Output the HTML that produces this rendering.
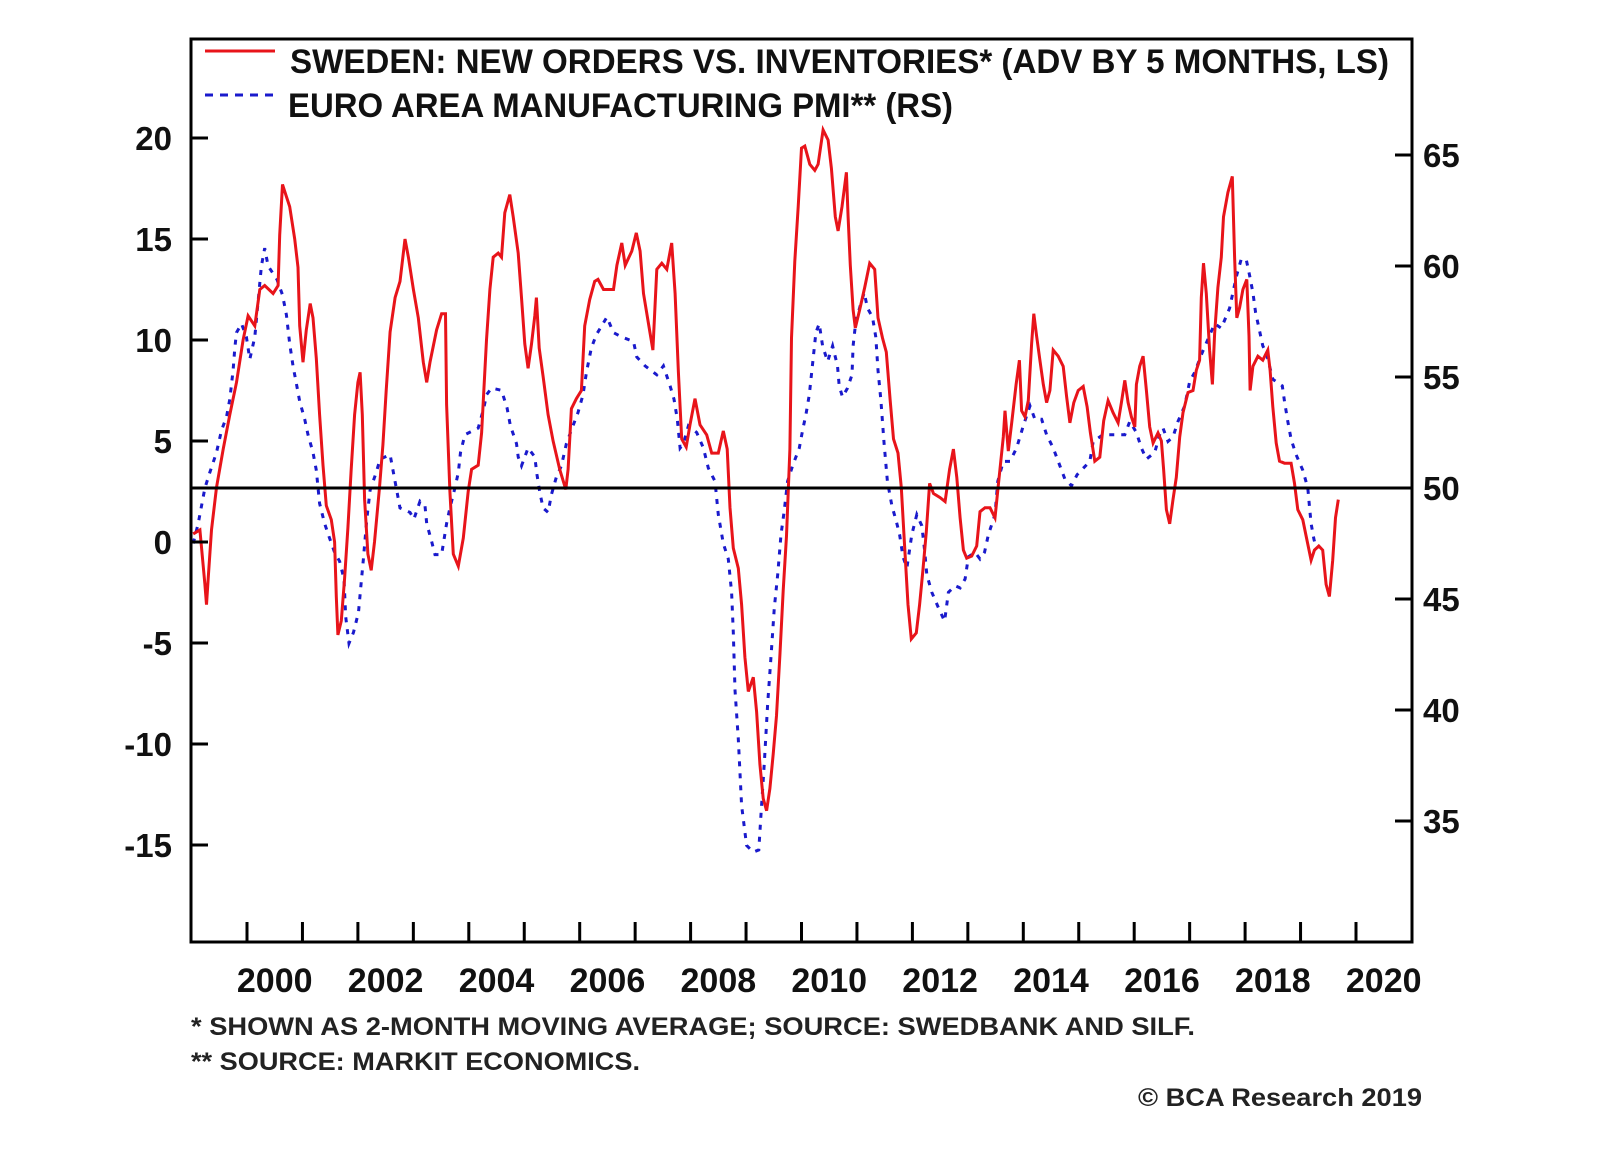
<!DOCTYPE html>
<html><head><meta charset="utf-8"><style>
html,body{margin:0;padding:0;background:#fff;}
svg{display:block;font-family:"Liberation Sans",Arial,sans-serif;}
</style></head><body>
<svg id="chart" width="1600" height="1152" viewBox="0 0 1600 1152" xmlns="http://www.w3.org/2000/svg">
<rect x="0" y="0" width="1600" height="1152" fill="#fff"/>
<g id="plot"></g>
<g id="axes"></g>
<g>
  <line x1="205" y1="51" x2="275" y2="51" stroke="#e8141a" stroke-width="3"/>
  <text x="290" y="73" font-size="34" font-weight="bold" fill="#111" textLength="1099" lengthAdjust="spacingAndGlyphs">SWEDEN: NEW ORDERS VS. INVENTORIES* (ADV BY 5 MONTHS, LS)</text>
  <line x1="205" y1="95" x2="275" y2="95" stroke="#1a1acc" stroke-width="3" stroke-dasharray="8 7"/>
  <text x="288" y="117" font-size="34" font-weight="bold" fill="#111" textLength="665" lengthAdjust="spacingAndGlyphs">EURO AREA MANUFACTURING PMI** (RS)</text>
</g>
<text x="191" y="1035" font-size="25" font-weight="bold" fill="#222" textLength="1004" lengthAdjust="spacingAndGlyphs">*  SHOWN AS 2-MONTH MOVING AVERAGE;  SOURCE:  SWEDBANK AND SILF.</text>
<text x="191" y="1070" font-size="25" font-weight="bold" fill="#222" textLength="449" lengthAdjust="spacingAndGlyphs">** SOURCE: MARKIT ECONOMICS.</text>
<text x="1138" y="1106" font-size="25" font-weight="bold" fill="#222" textLength="284" lengthAdjust="spacingAndGlyphs">© BCA Research 2019</text>
</svg>
<script>
const redDates=[1999.03,1999.15,1999.24,1999.27,1999.3,1999.36,1999.45,1999.57,1999.69,1999.81,1999.93,2000.02,2000.14,2000.23,2000.32,2000.47,2000.56,2000.59,2000.64,2000.71,2000.77,2000.86,2000.92,2000.95,2001.01,2001.07,2001.14,2001.19,2001.25,2001.31,2001.37,2001.43,2001.52,2001.58,2001.61,2001.64,2001.7,2001.76,2001.82,2001.88,2001.94,2002.0,2002.04,2002.08,2002.12,2002.18,2002.24,2002.3,2002.39,2002.45,2002.51,2002.58,2002.67,2002.76,2002.85,2002.91,2003.0,2003.09,2003.18,2003.24,2003.3,2003.42,2003.51,2003.58,2003.6,2003.66,2003.72,2003.81,2003.9,2003.99,2004.05,2004.17,2004.23,2004.32,2004.38,2004.44,2004.53,2004.59,2004.65,2004.74,2004.8,2004.89,2004.95,2005.01,2005.07,2005.13,2005.19,2005.22,2005.27,2005.34,2005.43,2005.52,2005.64,2005.75,2005.79,2005.85,2005.94,2006.03,2006.09,2006.18,2006.27,2006.33,
2006.43,2006.61,2006.67,2006.76,2006.82,2006.94,2007.02,2007.09,2007.15,2007.24,2007.32,2007.39,2007.48,2007.57,2007.66,2007.72,2007.78,2007.84,2007.92,2007.99,2008.08,2008.17,2008.29,2008.38,2008.5,2008.59,2008.66,2008.71,2008.77,2008.86,2008.92,2008.98,2009.04,2009.13,2009.19,2009.25,2009.31,2009.37,2009.43,2009.49,2009.55,2009.61,2009.67,2009.73,2009.79,2009.82,2009.88,2009.94,2010.0,2010.06,2010.15,2010.24,2010.3,2010.39,2010.48,2010.54,2010.61,2010.66,2010.73,2010.81,2010.84,2010.88,2010.93,2010.97,2011.05,2011.14,2011.23,2011.32,2011.38,2011.46,2011.53,2011.6,2011.66,2011.74,2011.8,2011.86,2011.92,2011.98,2012.07,2012.13,2012.19,2012.25,2012.31,2012.38,2012.5,2012.59,2012.67,2012.74,2012.8,2012.86,2012.92,2012.98,2013.07,2013.16,2013.22,2013.31,2013.4,2013.49,2013.55,
2013.64,2013.67,2013.73,2013.79,2013.87,2013.93,2013.97,2014.03,2014.09,2014.15,2014.19,2014.24,2014.3,2014.36,2014.42,2014.48,2014.54,2014.63,2014.72,2014.78,2014.84,2014.91,2014.99,2015.08,2015.15,2015.21,2015.29,2015.38,2015.45,2015.53,2015.62,2015.71,2015.77,2015.83,2015.89,2015.95,2016.01,2016.04,2016.1,2016.16,2016.22,2016.28,2016.34,2016.43,2016.49,2016.53,2016.58,2016.64,2016.7,2016.76,2016.82,2016.88,2016.97,2017.06,2017.12,2017.18,2017.21,2017.25,2017.3,2017.36,2017.41,2017.45,2017.51,2017.57,2017.61,2017.69,2017.77,2017.81,2017.85,2017.9,2017.96,2018.03,2018.07,2018.09,2018.14,2018.23,2018.32,2018.41,2018.45,2018.5,2018.56,2018.62,2018.71,2018.83,2018.89,2018.95,2019.04,2019.1,2019.19,2019.25,2019.33,2019.4,2019.46,2019.52,2019.58,2019.63,2019.68];
const redValues=[0.4,0.6,-2.1,-3.1,-1.8,0.6,2.7,4.6,6.3,7.9,10,11.2,10.7,12.5,12.7,12.3,12.7,15.2,17.7,17.1,16.6,15,13.6,10.7,8.9,10.5,11.8,11.1,9.1,6.3,3.8,1.8,1.1,0,-2.7,-4.6,-3.9,-1.8,0.7,3.6,6.3,7.9,8.4,6.3,2.1,-0.6,-1.4,0,2.7,4.8,7.5,10.4,12.1,12.9,15,14.1,12.5,11.1,8.9,7.9,8.9,10.5,11.3,11.3,6.8,2.5,-0.6,-1.2,0.2,2.5,3.6,3.8,5.4,10,12.5,14.1,14.3,14.1,16.3,17.2,16.1,14.3,12.1,9.8,8.6,9.8,11.2,12.1,9.6,8.2,6.3,5,3.6,2.6,3.6,6.6,7.1,7.5,10.7,12,12.9,13,
12.5,12.5,13.7,14.8,13.7,14.4,15.3,14.4,12.3,10.8,9.5,13.5,13.8,13.5,14.8,12.3,8.4,5.1,4.7,5.8,7.1,5.8,5.3,4.4,4.4,5.5,4.6,1.7,-0.3,-1.3,-3.1,-5.7,-7.4,-6.7,-8.4,-11,-12.7,-13.3,-12.2,-10.5,-8.6,-5.6,-2.4,0.3,4.6,10.1,13.9,16.6,19.5,19.6,18.7,18.4,18.7,20.4,19.9,18.5,16.1,15.4,16.6,18.3,16.1,13.7,11.5,10.6,11.5,12.6,13.8,13.5,11.1,10.1,9.4,7,5.1,4.4,2.7,-0.2,-3.1,-4.8,-4.5,-3.1,-1.4,0.5,2.9,2.4,2.2,2,3.6,4.6,3.2,1.2,-0.4,-0.8,-0.7,-0.2,1.5,1.7,1.7,1.2,2.8,
5.2,6.5,4.5,5.9,7.8,9,6.5,6.2,7,9.8,11.3,10.2,9,7.8,6.9,7.5,9.5,9.2,8.7,7.2,5.9,6.9,7.5,7.7,6.7,5.4,4,4.2,6,7,6.4,5.9,6.9,8,6.9,6.2,5.7,7.8,8.7,9.2,7.5,5.7,4.9,5.4,5,3.6,1.6,0.9,2.1,3.2,5.2,6.4,7.4,7.5,8.5,9,12.1,13.8,12.3,9.5,7.8,10.3,12.6,14.1,16.1,17.3,18.1,14.1,11.1,11.6,12.5,13,10.2,7.5,8.7,9.2,9,9.5,8.5,6.7,4.9,4,3.9,3.9,2.9,1.6,1.1,0.3,-0.9,-0.4,-0.2,-0.4,-2.1,-2.7,-0.9,1.2,2.1];
const blueDates=[1999.03,1999.12,1999.24,1999.33,1999.45,1999.54,1999.63,1999.69,1999.75,1999.78,1999.81,1999.9,1999.99,2000.05,2000.14,2000.2,2000.26,2000.32,2000.38,2000.54,2000.64,2000.71,2000.77,2000.83,2000.89,2000.95,2001.04,2001.1,2001.19,2001.25,2001.31,2001.4,2001.48,2001.58,2001.67,2001.75,2001.78,2001.84,2001.92,2002.01,2002.05,2002.1,2002.16,2002.22,2002.33,2002.4,2002.58,2002.64,2002.7,2002.76,2002.94,2003.01,2003.12,2003.21,2003.24,2003.33,2003.39,2003.51,2003.6,2003.66,2003.75,2003.81,2003.85,2003.93,2004.17,2004.27,2004.32,2004.41,2004.59,2004.69,2004.75,2004.86,2004.89,2004.95,2005.07,2005.19,2005.23,2005.28,2005.34,2005.43,2005.49,2005.58,2005.67,2005.76,2005.88,2005.97,2006.06,2006.12,2006.21,2006.3,
2006.49,2006.61,2006.76,2006.97,2007.03,2007.18,2007.39,2007.51,2007.63,2007.7,2007.76,2007.81,2007.87,2007.96,2008.11,2008.23,2008.32,2008.44,2008.5,2008.59,2008.68,2008.74,2008.77,2008.8,2008.86,2008.92,2009.01,2009.13,2009.23,2009.27,2009.33,2009.39,2009.45,2009.51,2009.57,2009.63,2009.69,2009.75,2009.84,2009.96,2010.02,2010.08,2010.14,2010.2,2010.26,2010.32,2010.38,2010.47,2010.56,2010.65,2010.68,2010.74,2010.83,2010.91,2010.93,2010.98,2011.07,2011.13,2011.19,2011.28,2011.34,2011.38,2011.43,2011.49,2011.55,2011.63,2011.71,2011.77,2011.83,2011.9,2011.99,2012.08,2012.17,2012.22,2012.26,2012.35,2012.47,2012.58,2012.65,2012.77,2012.86,2012.95,2013.01,2013.13,2013.22,2013.3,2013.37,2013.49,2013.54,
2013.64,2013.76,2013.88,2014.0,2014.12,2014.21,2014.33,2014.42,2014.54,2014.66,2014.75,2014.87,2014.97,2015.2,2015.26,2015.44,2015.62,2015.83,2015.92,2016.04,2016.13,2016.22,2016.37,2016.46,2016.52,2016.61,2016.7,2016.79,2016.91,2017.0,2017.09,2017.21,2017.33,2017.45,2017.57,2017.72,2017.78,2017.85,2017.93,2018.02,2018.08,2018.14,2018.19,2018.25,2018.32,2018.38,2018.5,2018.67,2018.71,2018.77,2018.83,2018.92,2019.04,2019.13,2019.16,2019.19,2019.24,2019.28];
const blueValues=[47.5,48.4,50,50.7,51.6,52.6,53.2,54,55.3,56.3,57,57.4,56.8,55.8,56.8,58.4,60,60.8,60,59.4,58.7,57.8,56.5,55.5,54.7,53.9,53.1,52.4,51.6,50.8,49.3,48.4,47.8,47.1,46.7,45.9,44.2,43,43.5,44.4,45.5,46.8,48.6,49.9,50.7,51.3,51.5,50.7,49.9,49.1,48.9,48.6,49.4,49.2,48.4,47.6,47,47,48.4,49.1,50,50.7,51.6,52.4,52.7,53.6,54.2,54.5,54.4,53.6,52.8,52,51.4,51,51.8,51.4,50.6,49.8,49.1,48.9,49.7,50.5,51,52,52.8,53.4,54.2,55.2,56.3,56.9,
57.7,57,56.8,56.6,55.9,55.5,55.1,55.5,54.6,54,53.1,51.8,52,52.8,52.5,51.8,50.9,50.3,48.8,47.5,46.8,45.3,43.5,40.9,38.7,35.7,33.9,33.6,33.7,35.3,37.6,40.3,42.4,44.6,46.1,47.9,49,50.3,51,51.8,52.6,53.3,54.2,55.6,57,57.4,56.4,55.7,56.4,55.5,54.6,54.1,54.5,55.1,56.4,57.5,58.3,58.8,58.1,57.7,56.8,55.3,54,52,50.3,49.2,48.5,47.9,46.9,46.4,47.9,48.8,48.3,47.2,46.1,45.3,44.6,44,45.3,45.6,45.5,45.9,46.9,47.1,46.8,47.1,47.9,48.8,50.3,
51.2,51.2,51.8,52.8,53.7,53.1,53.1,52.4,51.8,51,50.4,50.1,50.6,51.2,52.1,52.4,52.4,52.4,53,52.5,51.8,51.3,51.6,52.4,52.7,52.1,52.3,53,53.7,54.8,55.2,56,56.7,57.4,57.2,58.1,58.8,59.6,60.3,60.3,59.6,58.8,57.9,57.2,56.4,56.1,54.9,54.6,53.9,53,52.2,51.5,50.8,50,49.2,48.4,47.7,47.3];
const leftTicks=[20,15,10,5,0,-5,-10,-15];
const rightTicks=[65,60,55,45,40,35];
const yearTicks=[2000,2001,2002,2003,2004,2005,2006,2007,2008,2009,2010,2011,2012,2013,2014,2015,2016,2017,2018,2019,2020];
const yearLabels=[2000,2002,2004,2006,2008,2010,2012,2014,2016,2018,2020];

const NS='http://www.w3.org/2000/svg';
const L=191,R=1412,T=39,B=942;
function x(yr){return 247+(yr-2000)*55.45;}
function yL(v){return 542-v*20.2;}
function yR(v){return 488-(v-50)*22.2;}
function mk(tag,attrs,parent){const e=document.createElementNS(NS,tag);for(const k in attrs)e.setAttribute(k,attrs[k]);parent.appendChild(e);return e;}
const plot=document.getElementById('plot');
const axes=document.getElementById('axes');

let pb=redDates.map((d,i)=>x(d).toFixed(1)+','+yR(0)).join(' ');
let bp=blueDates.map((d,i)=>x(d).toFixed(1)+','+yR(blueValues[i]).toFixed(1)).join(' ');
const blue=mk('polyline',{points:bp,fill:'none',stroke:'#1a1acc','stroke-width':3,'stroke-dasharray':'5 7'},plot);


let rp=redDates.map((d,i)=>x(d).toFixed(1)+','+yL(redValues[i]).toFixed(1)).join(' ');
const red=mk('polyline',{points:rp,fill:'none',stroke:'#e8141a','stroke-width':3,'stroke-linejoin':'miter'},plot);



const ref=mk('line',{x1:L,x2:R,y1:yR(50),y2:yR(50),stroke:'#000','stroke-width':3},axes);


const fr=mk('rect',{x:L,y:T,width:R-L,height:B-T,fill:'none',stroke:'#000','stroke-width':3},axes);



leftTicks.forEach(v=>{
  const t=mk('line',{x1:L,x2:L+17,y1:yL(v),y2:yL(v),stroke:'#000','stroke-width':3},axes);
  
  
  const lb=mk('text',{x:172,y:yL(v)+12,'text-anchor':'end','font-size':33,'font-weight':'bold',fill:'#111'},axes);
  lb.textContent=String(v).replace('-','-');
  
  
});
rightTicks.concat([50]).forEach(v=>{
  if(v!==50){
    const t=mk('line',{x1:R-17,x2:R,y1:yR(v),y2:yR(v),stroke:'#000','stroke-width':3},axes);
    
    
  }
  const lb=mk('text',{x:1423,y:yR(v)+12,'font-size':33,'font-weight':'bold',fill:'#111'},axes);
  lb.textContent=String(v);
  
  
});
yearTicks.forEach(yr=>{
  const t=mk('line',{x1:x(yr),x2:x(yr),y1:B,y2:B-20,stroke:'#000','stroke-width':3},axes);
  
  
});
yearLabels.forEach(yr=>{
  const lb=mk('text',{x:x(yr+0.5),y:992,'text-anchor':'middle','font-size':34,'font-weight':'bold',fill:'#111'},axes);
  lb.textContent=String(yr);
  
  
});
</script>
</body></html>
